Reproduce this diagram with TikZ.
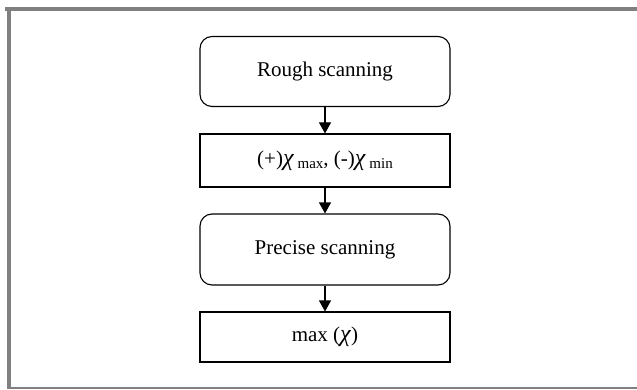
\documentclass[tikz,border=0pt]{standalone}
\usepackage{fontspec}
\setmainfont{Liberation Serif}
\usetikzlibrary{arrows.meta}
\newcommand{\mychi}{{\fontsize{24}{26}\selectfont\textit{χ}}}
\newcommand{\mysub}[1]{\raisebox{-0.35ex}{\fontsize{15}{17}\selectfont #1}}
\begin{document}
\begin{tikzpicture}[x=1pt,y=1pt,
  rbox/.style={draw=black,line width=1.1pt,rounded corners=12pt,minimum width=250pt,minimum height=70pt,inner sep=0pt,font=\fontsize{21}{24}\selectfont},
  sbox/.style={draw=black,line width=1.1pt,minimum width=250pt,minimum height=52pt,inner sep=0pt,font=\fontsize{21}{24}\selectfont},
  conn/.style={line width=1.1pt,-{Triangle[length=11pt,width=12pt]}}]
\useasboundingbox (0,0) rectangle (637,389);
\fill[gray] (5,378) rectangle (637,382);
\fill[gray] (7,0) rectangle (11,380);
\draw[gray,line width=1.5pt] (7,1) -- (637,1);
\node[rbox] (a) at (325,317.5) {Rough scanning};
\node[sbox,minimum height=53pt] (b) at (325,228.5) {(+)\mychi\,\mysub{max}, (-)\mychi\,\mysub{min}};
\node[rbox,minimum height=71pt] (c) at (325,139.5) {Precise scanning};
\node[sbox,minimum height=50pt] (d) at (325,52) {max (\mychi)};
\draw[conn] (a) -- (b);
\draw[conn] (b) -- (c);
\draw[conn] (c) -- (d);
\end{tikzpicture}
\end{document}
